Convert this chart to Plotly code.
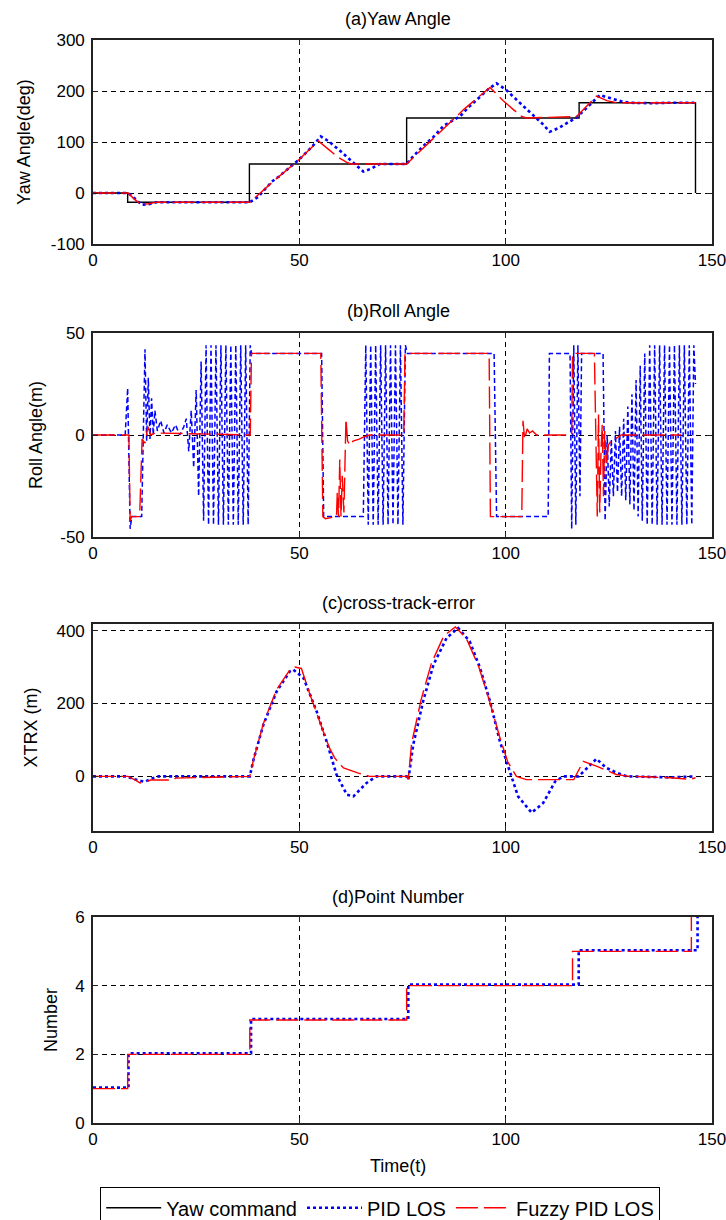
import plotly.graph_objects as go

# ---------------- data ----------------
# (a) Yaw angle (deg)
yaw_cmd_t = [0, 8.4, 8.4, 37.9, 37.9, 76.0, 76.0, 117.8, 117.8, 146.0, 146.0]
yaw_cmd_v = [0, 0, -18, -18, 57, 57, 147, 147, 177, 177, 0]

yaw_pid_t = [0, 8.5, 10, 11.8, 13.5, 15.4, 38.0, 40, 43.3, 45, 50, 53, 55.2, 57, 60, 63, 65.5,
             67.5, 69.5, 76.0, 77.6, 80, 82.5, 85, 88.9, 91, 93.8, 96, 97.8, 100, 103, 106, 109,
             110.7, 113, 115, 117, 119, 121, 122.8, 124, 126, 128, 130, 135, 140, 146]
yaw_pid_v = [0, 0, -10, -23, -22, -18, -18, -8, 22, 32, 66, 90, 111, 102, 82, 60, 42,
             48, 57, 57, 72, 92, 110, 132, 150, 168, 189, 205, 215, 203, 180, 158, 135,
             120, 128, 138, 147, 162, 178, 192, 189, 184, 180, 177, 176, 177, 177]

yaw_fuz_t = [0, 8.5, 10, 11.6, 13.5, 15.4, 38.0, 44, 50, 54.6, 57, 59.4, 61.5, 62.5, 76.0, 80,
             85, 90, 96.2, 99.4, 101.8, 103.9, 105, 117.2, 119.6, 122, 124.5, 127, 146]
yaw_fuz_v = [0, 0, -12, -22, -21, -18, -18, 25, 66, 102, 86, 70, 60, 57, 57, 88,
             128, 165, 207, 181, 164, 150, 147, 150, 170, 190, 181, 177, 177]

# (b) Roll angle
roll_pid_t = [0, 7.8, 8.4, 9.0, 9.4, 11.8, 12.6, 13.0, 13.4, 13.8, 14.2, 14.6, 15.0, 15.6, 16.4,
              17.2, 18.0, 19.0, 20.0, 21.0, 22.0, 22.6, 23.2, 23.8, 24.4, 25.0, 25.6, 26.2, 26.8,
              27.4, 28.0, 28.6, 29.2, 29.8, 30.4, 31.0, 31.6, 32.2, 32.8, 33.4, 34.0, 34.6, 35.2,
              35.8, 36.4, 37.0, 37.6, 38.1, 38.4,
              55.4, 55.9, 65.5, 66.1, 66.7, 67.3, 67.9, 68.5, 69.1, 69.7, 70.3, 70.9, 71.5, 72.1,
              72.7, 73.3, 73.9, 74.5, 75.1, 75.7, 76.2,
              97.2, 97.8, 110.3, 110.6, 115.6, 116.0, 116.5, 117.0, 117.5, 118.0, 118.4,
              123.6, 124.1, 124.6, 125.1, 125.6, 126.1, 126.6, 127.1, 127.6, 128.1, 128.6, 129.1,
              129.6, 130.1, 130.6, 131.1, 131.6, 132.1, 132.6, 133.1, 133.7, 134.3, 134.9, 135.5,
              136.1, 136.7, 137.3, 137.9, 138.5, 139.1, 139.7, 140.3, 140.9, 141.5, 142.1, 142.7,
              143.3, 143.9, 144.5, 145.1, 145.6, 146.0]
roll_pid_v = [0, 0, 23, -46, -40, -40, 42, -3, 28, -2, 18, 0, 12, 2, 7,
              1, 5, 1, 5, 0, 4, 8, -8, 12, -16, 22, -30, 36, -42, 44,
              -44, 44, -44, 44, -44, 44, -44, 44, -44, 44, -44, 44, -44,
              44, -44, 44, -44, 44, 40,
              40, -40, -40, 44, -44, 44, -44, 44, -44, 44, -44, 44, -44, 44,
              -44, 44, -44, 44, -44, 44, 40,
              40, -40, -40, 40, 40, -46, 44, -44, 44, -30, 40,
              40, -42, 0, -35, -2, -30, 2, -28, 4, -30, 8, -32,
              14, -34, 20, -37, 27, -40, 34, -42, 40, -44, 44, -44,
              44, -44, 44, -44, 44, -44, 44, -44, 44, -44, 44, -44,
              44, -44, 44, -44, 44, 25]

roll_fuz_t = [0, 8.7, 9.0, 9.4, 11.3, 11.9, 12.6, 13.3, 14.0, 15, 38.1, 38.4, 55.2, 55.7, 56.3,
              59.0, 59.2, 59.5, 59.8, 60.1, 60.4, 60.8, 61.3, 61.7, 62.3, 63.0, 64.5, 65.5, 67.0,
              75.3, 75.6, 96.0, 96.3, 103.9, 104.2, 104.6, 105.2, 105.8, 106.5, 107.5, 116.0,
              116.2, 121.5, 121.9, 122.2, 122.5, 122.8, 123.1, 123.4, 123.7, 124.0, 124.4, 124.9,
              125.5, 126.5, 128, 142.6]
roll_fuz_v = [0, 0, -42, -40, -40, -2, -4, 4, 0, 1, 0, 40, 40, -40, -41,
              -40, -28, -40, -12, -40, -20, -38, 8, -3, -5, -3, -2, -1, 0,
              0, 40, 40, -40, -40, 7, -2, 3, 1, 2, 0, 0,
              40, 40, -20, -40, 10, -38, -8, 5, -30, 2, -15, -5,
              -3, -2, 0, 0]

# (c) cross-track error (m)
xte_pid_t = [0, 8.0, 10.0, 12.5, 14.5, 16, 38.0, 38.9, 41.3, 44.5, 47.7, 48.5, 51.0, 54.2, 56.6,
             59.0, 61.5, 63.1, 66.3, 68.7, 76.0, 76.4, 77.6, 80.0, 82.5, 85.7, 88.5, 91.3, 93.8,
             96.2, 98.6, 101.0, 103.0, 106.3, 109.1, 112.0, 114.0, 117.7, 120, 122.0, 124.4,
             126.5, 129.3, 135, 140, 146]
xte_pid_v = [0, 0, -8, -15, -5, 0, 0, 46, 142, 233, 288, 293, 270, 178, 96,
             5, -50, -55, -18, 0, 0, -10, 87, 206, 306, 380, 407, 370, 297,
             206, 96, 14, -55, -100, -73, -14, 0, 0, 25, 48, 23,
             12, 0, -2, -3, 0]

xte_fuz_t = [0, 8.5, 10.5, 11.4, 13, 14, 19.5, 20, 38.0, 38.9, 41.3, 44.5, 47.7, 48.9, 50.5,
             52.6, 55.8, 57.3, 58.6, 60.7, 64.3, 67, 76.0, 76.4, 77.2, 79.5, 82, 85, 87.8, 90.5,
             93.5, 96, 98.5, 100.5, 102.6, 105, 114, 116.5, 118.8, 122, 126.8, 130, 135, 140,
             144.7, 146]
xte_fuz_v = [0, 0, -12, -18, -14, -10, -10, -5, 0, 46, 145, 238, 292, 300, 296,
             224, 123, 78, 50, 23, 9, 0, 0, -8, 90, 210, 310, 385, 410, 378,
             300, 210, 110, 40, 0, -9, -9, -9, 41, 28, 5, 0, -2, -4,
             -8, -4]

# (d) point number
pt_pid_t = [0, 8.6, 8.6, 38.3, 38.3, 76.4, 76.4, 117.7, 117.7, 146.5, 146.5]
pt_pid_v = [1.03, 1.03, 2.03, 2.03, 3.03, 3.03, 4.03, 4.03, 5.03, 5.03, 6]
pt_fuz_t = [0, 8.4, 8.4, 38.0, 38.0, 76.0, 76.0, 116.2, 116.2, 145.0, 145.0]
pt_fuz_v = [1, 1, 2, 2, 3, 3, 4, 4, 5, 5, 6]

x_ticks = [0, 50, 100, 150]
x_ticktext = ["0", "50", "100", "150"]
ytickvals = [[-100, 0, 100, 200, 300], [-50, 0, 50], [0, 200, 400], [0, 2, 4, 6]]
yticktext = [["-100", "0", "100", "200", "300"], ["-50", "0", "50"], ["0", "200", "400"],
             ["0", "2", "4", "6"]]
titles = ["(a)Yaw Angle", "(b)Roll Angle", "(c)cross-track-error", "(d)Point Number"]
ylabels = ["Yaw Angle(deg)", "Roll Angle(m)", "XTRX (m)", "Number"]
legend_names = ["Yaw command", "PID LOS", "Fuzzy PID LOS"]

# ---------------- figure ----------------
W, H = 726, 1220
FONT = "Liberation Sans, Arial, sans-serif"
AX_L, AX_R = 93, 712
boxes = [(40, 244), (333, 537), (624, 831), (917, 1123)]
yranges = [[-100, 300], [-50, 50], [-150, 418], [0, 6]]
ylabel_x = [24, 36, 30, 51]
title_y = [19, 311, 603, 897]

def px(x):
    return x / W

def py(y):
    return 1 - y / H

CMD = dict(color="#000000", width=1.4)
PID = dict(color="#0000ff", width=2.6, dash="dot")
PID_ROLL = dict(color="#0000ff", width=1.5, dash="5px,3px")
FUZ = dict(color="#ff0000", width=1.4, dash="22px,6px")

fig = go.Figure()

def add(t, v, name, line, idx, show):
    sfx = "" if idx == 0 else str(idx + 1)
    fig.add_trace(go.Scatter(x=t, y=v, mode="lines", name=name, line=line,
                             xaxis="x" + sfx, yaxis="y" + sfx, showlegend=show,
                             legendgroup=name))

add(yaw_cmd_t, yaw_cmd_v, legend_names[0], CMD, 0, True)
add(yaw_pid_t, yaw_pid_v, legend_names[1], PID, 0, True)
add(yaw_fuz_t, yaw_fuz_v, legend_names[2], FUZ, 0, True)
add(roll_pid_t, roll_pid_v, legend_names[1], PID_ROLL, 1, False)
add(roll_fuz_t, roll_fuz_v, legend_names[2], FUZ, 1, False)
add(xte_pid_t, xte_pid_v, legend_names[1], PID, 2, False)
add(xte_fuz_t, xte_fuz_v, legend_names[2], FUZ, 2, False)
add(pt_pid_t, pt_pid_v, legend_names[1], PID, 3, False)
add(pt_fuz_t, pt_fuz_v, legend_names[2], FUZ, 3, False)

layout = dict(
    width=W, height=H, margin=dict(l=0, r=0, t=0, b=0, autoexpand=False),
    paper_bgcolor="white", plot_bgcolor="white",
    font=dict(family=FONT, size=17, color="#000"),
    showlegend=True,
    legend=dict(orientation="h", x=px(100), y=py(1187), xanchor="left", yanchor="top",
                bordercolor="#000", borderwidth=1.2, bgcolor="white",
                font=dict(family=FONT, size=20), itemwidth=55,
                traceorder="normal"),
)
annotations = []
for i, (top, bot) in enumerate(boxes):
    sfx = "" if i == 0 else str(i + 1)
    common = dict(showline=True, linecolor="#222", linewidth=1.6, mirror="ticks",
                  ticks="inside", ticklen=5, tickcolor="#222", tickwidth=1,
                  showgrid=True, gridcolor="#000", gridwidth=1, griddash="5px,4px",
                  zeroline=False, automargin=False, ticklabeloverflow="allow",
                  tickfont=dict(family=FONT, size=17))
    layout["xaxis" + sfx] = dict(domain=[px(AX_L), px(AX_R)], anchor="y" + sfx,
                                 range=[0, 150], tickmode="array", tickvals=x_ticks,
                                 ticktext=x_ticktext, **common)
    layout["yaxis" + sfx] = dict(domain=[py(bot), py(top)], anchor="x" + sfx,
                                 range=yranges[i], tickmode="array", tickvals=ytickvals[i],
                                 ticktext=yticktext[i], ticklabelstandoff=3, **common)
    annotations.append(dict(text=titles[i], x=px(398), y=py(title_y[i]), xref="paper",
                            yref="paper", showarrow=False, xanchor="center", yanchor="middle",
                            font=dict(family=FONT, size=18)))
    annotations.append(dict(text=ylabels[i], x=px(ylabel_x[i]), y=py((top + bot) / 2),
                            xref="paper", yref="paper", showarrow=False, textangle=-90,
                            xanchor="center", yanchor="middle",
                            font=dict(family=FONT, size=18)))
annotations.append(dict(text="Time(t)", x=px(398), y=py(1166), xref="paper", yref="paper",
                        showarrow=False, xanchor="center", yanchor="middle",
                        font=dict(family=FONT, size=18)))
layout["annotations"] = annotations
fig.update_layout(**layout)
fig.write_html("out.html", config={"displayModeBar": False},
               post_script="document.body.style.margin='0';document.body.style.overflow='hidden';")
